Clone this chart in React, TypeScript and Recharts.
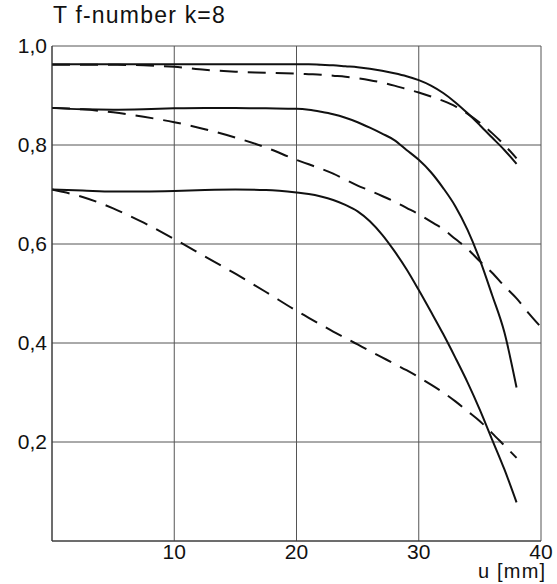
import { LineChart, Line, XAxis, YAxis, CartesianGrid } from 'recharts';

// u [mm] sample positions, shared by all curves
const U = [0, 2.5, 5, 7.5, 10, 12.5, 15, 17.5, 20, 21, 22, 23, 24, 25, 26, 27, 28, 29, 30, 31, 32, 33, 34, 35, 36, 37, 38, 39, 40];

// T values (null = curve ended)
const topSolid = [0.963, 0.963, 0.963, 0.963, 0.963, 0.963, 0.963, 0.963, 0.963, 0.963, 0.962, 0.961, 0.959, 0.957, 0.954, 0.95, 0.945, 0.939, 0.931, 0.92, 0.905, 0.886, 0.864, 0.84, 0.815, 0.79, 0.762, null, null];
const topDashed = [0.962, 0.962, 0.962, 0.961, 0.958, 0.952, 0.948, 0.946, 0.944, 0.943, 0.942, 0.94, 0.938, 0.935, 0.931, 0.926, 0.92, 0.913, 0.906, 0.898, 0.889, 0.878, 0.863, 0.845, 0.824, 0.8, 0.773, null, null];
const midSolid = [0.875, 0.872, 0.871, 0.872, 0.874, 0.875, 0.875, 0.874, 0.873, 0.871, 0.867, 0.862, 0.855, 0.846, 0.835, 0.823, 0.81, 0.79, 0.77, 0.745, 0.713, 0.676, 0.628, 0.568, 0.497, 0.422, 0.31, null, null];
const midDashed = [0.875, 0.872, 0.866, 0.857, 0.846, 0.832, 0.815, 0.795, 0.77, 0.761, 0.752, 0.742, 0.73, 0.718, 0.708, 0.697, 0.686, 0.673, 0.66, 0.645, 0.63, 0.61, 0.59, 0.565, 0.542, 0.515, 0.49, 0.46, 0.432];
const lowSolid = [0.71, 0.708, 0.706, 0.706, 0.707, 0.709, 0.71, 0.709, 0.704, 0.701, 0.696, 0.689, 0.679, 0.666, 0.646, 0.619, 0.586, 0.549, 0.507, 0.463, 0.418, 0.37, 0.32, 0.265, 0.205, 0.145, 0.078, null, null];
const lowDashed = [0.71, 0.695, 0.672, 0.643, 0.61, 0.575, 0.54, 0.503, 0.465, 0.451, 0.437, 0.423, 0.41, 0.397, 0.384, 0.371, 0.358, 0.345, 0.331, 0.316, 0.3, 0.282, 0.262, 0.242, 0.218, 0.193, 0.168, null, null];

const X_TICKS = [10, 20, 30, 40];
const Y_TICKS = [0.2, 0.4, 0.6, 0.8, 1.0];

const data = U.map((u, i) => ({
  u,
  topSolid: topSolid[i],
  topDashed: topDashed[i],
  midSolid: midSolid[i],
  midDashed: midDashed[i],
  lowSolid: lowSolid[i],
  lowDashed: lowDashed[i],
}));

const FONT = '"Liberation Sans", Arial, sans-serif';
const DASH = '18 10';
const series = [
  { key: 'topSolid', dash: undefined },
  { key: 'topDashed', dash: DASH },
  { key: 'midSolid', dash: undefined },
  { key: 'midDashed', dash: DASH },
  { key: 'lowSolid', dash: undefined },
  { key: 'lowDashed', dash: DASH },
];

export default function App() {
  return (
    <div style={{ position: 'absolute', left: 0, top: 0, width: 557, height: 584, background: '#fff', fontFamily: FONT }}>
      <div style={{ position: 'absolute', left: 53, top: 3.5, fontSize: 23, lineHeight: 1, letterSpacing: 1.2, color: '#111', whiteSpace: 'nowrap' }}>
        T f-number k=8
      </div>
      <LineChart width={557} height={584} data={data} margin={{ top: 46, right: 16, left: 0, bottom: 0 }}>
        <CartesianGrid stroke="#555" strokeWidth={1} />
        <XAxis
          dataKey="u"
          type="number"
          domain={[0, 40]}
          ticks={X_TICKS}
          height={43}
          tickLine={false}
          tickSize={0}
          tickMargin={3}
          axisLine={{ stroke: '#333' }}
          tick={{ fontSize: 21, fill: '#111', fontFamily: FONT }}
        />
        <YAxis
          type="number"
          domain={[0, 1]}
          ticks={Y_TICKS}
          width={52}
          tickLine={false}
          tickSize={0}
          tickMargin={5}
          axisLine={{ stroke: '#333' }}
          tickFormatter={(v: number) => v.toFixed(1).replace('.', ',')}
          tick={{ fontSize: 21, fill: '#111', fontFamily: FONT }}
        />
        {series.map(s => (
          <Line
            key={s.key}
            type="monotone"
            dataKey={s.key}
            stroke="#111"
            strokeWidth={2}
            strokeDasharray={s.dash}
            dot={false}
            activeDot={false}
            isAnimationActive={false}
          />
        ))}
      </LineChart>
      <div style={{ position: 'absolute', left: 478, top: 561, fontSize: 20, lineHeight: 1, letterSpacing: 1.2, color: '#111', whiteSpace: 'nowrap' }}>
        u [mm]
      </div>
    </div>
  );
}
